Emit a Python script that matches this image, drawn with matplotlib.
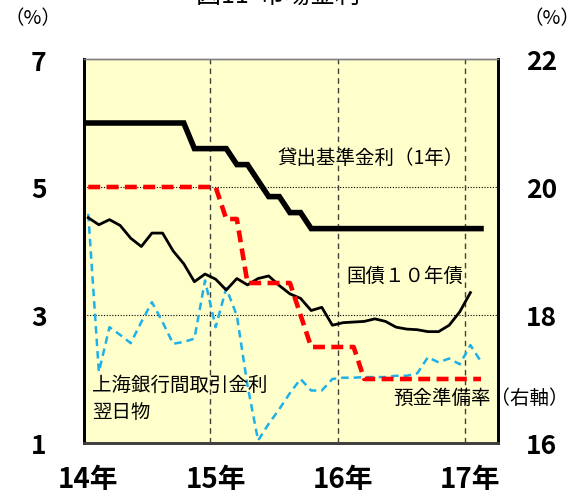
import matplotlib
matplotlib.use('Agg')
import matplotlib.pyplot as plt

plt.rcParams['font.family'] = ['Noto Sans CJK JP', 'DejaVu Sans']

# 月次データ 2014年1月〜2017年2月
year_labels = ['14年', '15年', '16年', '17年']
year_pos = [0, 12, 24, 36]

loan_rate = [6.0] * 10 + [5.6] * 4 + [5.35] * 2 + [5.1] + [4.85] * 2 + [4.6] * 2 + [4.35] * 17
rrr = [20.0] * 13 + [19.5] * 2 + [18.5] * 5 + [18.0] + [17.5] * 5 + [17.0] * 12
bond10 = [4.52, 4.41, 4.49, 4.40, 4.20, 4.07, 4.28, 4.28, 4.00, 3.80, 3.52, 3.64,
          3.56, 3.39, 3.57, 3.47, 3.57, 3.61, 3.46, 3.33, 3.26, 3.07, 3.12, 2.84,
          2.88, 2.89, 2.90, 2.94, 2.90, 2.81, 2.78, 2.77, 2.74, 2.74, 2.84, 3.05, 3.35]
shibor = [4.58, 2.11, 2.81, 2.69, 2.56, 2.89, 3.20, 2.89, 2.55, 2.58, 2.63, 3.54,
          2.81, 3.42, 2.99, 1.90, 1.04, 1.30, 1.53, 1.78, 2.00, 1.82, 1.82, 2.00,
          2.02, 2.02, 2.03, 2.03, 2.03, 2.05, 2.05, 2.09, 2.34, 2.26, 2.32, 2.23, 2.53, 2.27]

fig = plt.figure(figsize=(5.82, 5.02), dpi=100)
ax = fig.add_axes([84/582, 1-444/502, 414/582, 384/502])
ax.set_facecolor('#FFFFCC')
ax2 = ax.twinx()

ax.set_xlim(-0.4, 38.6)
ax.set_ylim(1, 7)
ax2.set_ylim(16, 22)

# グリッド
for v in [3, 5]:
    ax.axhline(v, color='black', lw=0.8, ls=(0, (1, 1.5)), zorder=1)
for v in [11.5, 23.5, 35.5]:
    ax.axvline(v, color='#404040', lw=1, ls=(0, (4, 3)), zorder=1)

ax.plot(range(len(shibor)), shibor, color='#1EB0E8', lw=1.8, ls=(0, (3, 2)), zorder=3)
ax.plot(range(len(bond10)), bond10, color='black', lw=2, zorder=4)
ax.plot(range(len(loan_rate)), loan_rate, color='black', lw=4, zorder=5,
        solid_joinstyle='miter')
ax2.plot(range(len(rrr)), rrr, color='#FF0000', lw=3.3, ls=(0, (2.6, 1.4)), zorder=5)

ax.set_xticks(year_pos)
ax.set_xticklabels(year_labels, fontsize=20, fontweight='bold')
ax.set_yticks([1, 3, 5, 7])
ax.set_yticklabels(['1', '3', '5', '7'], fontsize=19, fontweight='bold')
ax2.set_yticks([16, 18, 20, 22])
ax2.set_yticklabels(['16', '18', '20', '22'], fontsize=19, fontweight='bold')
ax.tick_params(axis='x', length=0, pad=16)
ax.tick_params(axis='y', length=0, pad=27)
ax2.tick_params(axis='y', length=0, pad=20)

for a in (ax, ax2):
    a.spines['left'].set_linewidth(2)
    a.spines['right'].set_linewidth(2)
    a.spines['top'].set_color('#808080')
    a.spines['top'].set_linewidth(1)
    a.spines['bottom'].set_color('#404040')
    a.spines['bottom'].set_linewidth(2)

# 注記
fig.text(277/582, 1-158/502, '貸出基準金利（1年）', fontsize=14, va='center')
fig.text(346/582, 1-276/502, '国債１０年債', fontsize=14, va='center')
fig.text(92/582, 1-385/502, '上海銀行間取引金利', fontsize=14, va='center')
fig.text(92/582, 1-412/502, '翌日物', fontsize=14, va='center')
fig.text(393/582, 1-398/502, '預金準備率（右軸）', fontsize=14, va='center')

fig.text(33/582, 1-19/502, '（%）', fontsize=14, ha='center', va='center')
fig.text(580/582, 1-19/502, '（%）', fontsize=14, ha='right', va='center')
fig.text(278/582, 1-(-4)/502, '図11  市場金利', fontsize=18, ha='center', va='center')

fig.savefig('out.png', dpi=100)
